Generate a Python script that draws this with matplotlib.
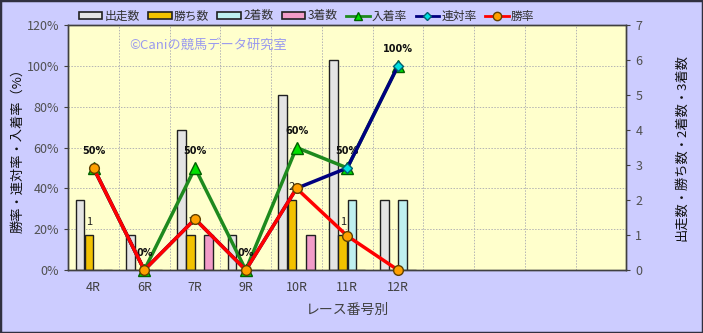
import numpy as np
import matplotlib
matplotlib.use("Agg")
import matplotlib.pyplot as plt
from matplotlib.patches import Patch, Rectangle
from matplotlib.lines import Line2D

plt.rcParams["font.family"] = ["Noto Sans CJK JP", "DejaVu Sans"]

# race numbers (11 slots on the axis, only the first 7 are used)
races = ["4R", "6R", "7R", "9R", "10R", "11R", "12R", "", "", "", ""]

# counts (right axis)
runs = [2, 1, 4, 1, 5, 6, 2]
wins = [1, 0, 1, 0, 2, 1, 0]
seconds = [0, 0, 0, 0, 0, 2, 2]
thirds = [0, 0, 1, 0, 1, 0, 0]

# rates in % (left axis)
win_rate = [50, 0, 25, 0, 40, 16.7, 0]
rentai_rate = [50, 0, 25, 0, 40, 50, 100]
place_rate = [50, 0, 50, 0, 60, 50, 100]

# labels drawn on the chart
win_labels = ["1", "", "1", "", "2", "1", ""]
place_labels = ["50%", "0%", "50%", "0%", "60%", "50%", "100%"]

bg = "#CCCCFF"
fig = plt.figure(figsize=(7.03, 3.33), dpi=100, facecolor=bg)
ax2 = fig.add_axes([0.097, 0.189, 0.794, 0.736])
ax = ax2.twinx()

# ---- bars on the count axis ----
n = len(runs)
x = np.arange(n)
w = 0.18
bar_sets = [
    (runs, "#E4E4E4", "出走数"),
    (wins, "#F2C200", "勝ち数"),
    (seconds, "#BFF0F0", "2着数"),
    (thirds, "#F29CC8", "3着数"),
]
for i, (vals, col, name) in enumerate(bar_sets):
    ax2.bar(x + (i - 1.5) * w, vals, width=w * 0.95, color=col,
            edgecolor="#202020", linewidth=1.0, zorder=2)

# win count labels above the win bars
for xi, lab, v in zip(x, win_labels, wins):
    if lab:
        ax2.text(xi - 0.5 * w, v + 0.37, lab, ha="center", va="center",
                 fontsize=8, color="#202020", zorder=5)

ax2.set_facecolor("#FFFFCC")
ax2.set_xlim(-0.5, len(races) - 0.5)
ax2.set_ylim(0, 7)
ax2.set_yticks(range(0, 8))
ax2.set_xticks(range(len(races)))
ax2.set_xticklabels(races)
ax2.set_xticks(np.arange(0.5, len(races) - 0.5, 1), minor=True)
ax2.grid(True, which="minor", axis="x", color="#B4B4B4", linestyle=(0, (1.5, 1.5)), linewidth=0.7)
ax2.tick_params(axis="x", which="minor", length=0)
ax2.tick_params(axis="x", which="major", length=0, pad=8, labelsize=9, labelcolor="#404040")
for yv in np.arange(20, 120, 20) * 7 / 120:
    ax2.axhline(yv, color="#B4B4B4", linestyle=(0, (1.5, 1.5)), linewidth=0.7, zorder=1)

# ---- lines on the rate axis ----
ax.plot(x, place_rate, color="#1E8A1E", lw=2.5, marker="^", ms=8,
        mfc="#00E000", mec="#006000", zorder=3, label="入着率")
ax.plot(x, rentai_rate, color="#000080", lw=2.5, marker="D", ms=5,
        mfc="#00E0E0", mec="#006070", zorder=4, label="連対率")
ax.plot(x, win_rate, color="#FF0000", lw=2.5, marker="o", ms=7,
        mfc="#FFA000", mec="#604000", zorder=5, label="勝率")
for xi, v, lab in zip(x, place_rate, place_labels):
    ax.annotate(lab, (xi, v), xytext=(0, 12), textcoords="offset points",
                ha="center", va="center", fontsize=7, fontweight="bold",
                color="#101010", family=["DejaVu Sans"])

ax.set_ylim(0, 120)
ax.set_yticks(range(0, 121, 20))
ax.yaxis.set_major_formatter(plt.FuncFormatter(lambda v, p: f"{v:.0f}%"))

# put rate axis on the left and count axis on the right, lines above bars
ax.yaxis.tick_left()
ax.yaxis.set_label_position("left")
ax2.yaxis.tick_right()
ax2.yaxis.set_label_position("right")
ax.set_zorder(ax2.get_zorder() + 1)
ax.patch.set_visible(False)
for a in (ax, ax2):
    a.tick_params(axis="y", labelsize=9, labelcolor="#505050", length=3, color="#404040")
    for s in a.spines.values():
        s.set_color("#404040")
        s.set_linewidth(1)
for line in ax.lines:
    line.set_clip_on(False)

ax.set_ylabel("勝率・連対率・入着率（%）", fontsize=9.5, color="#101010", labelpad=2)
ax2.set_ylabel("出走数・勝ち数・2着数・3着数", fontsize=9.5, color="#101010", labelpad=24)
ax2.set_xlabel("レース番号別", fontsize=10, color="#404040", labelpad=6)

# watermark
ax2.text(0.11, 0.915, "©Caniの競馬データ研究室", transform=ax2.transAxes,
         fontsize=9.5, color="#9A9AEE", ha="left", va="center", zorder=6)

# legend
handles = [Patch(facecolor=c, edgecolor="#202020", linewidth=1.2, label=nm) for _, c, nm in bar_sets]
handles += [
    Line2D([], [], color="#1E8A1E", lw=2, marker="^", ms=6, mfc="#00E000", mec="#006000", label="入着率"),
    Line2D([], [], color="#000080", lw=2, marker="D", ms=4, mfc="#00E0E0", mec="#006070", label="連対率"),
    Line2D([], [], color="#FF0000", lw=2, marker="o", ms=6, mfc="#FFA000", mec="#604000", label="勝率"),
]
fig.legend(handles=handles, loc="center", bbox_to_anchor=(0.436, 0.952), ncol=7,
           frameon=False, fontsize=8.5, handlelength=2.0, handleheight=0.6,
           handletextpad=0.2, columnspacing=0.7, labelcolor="#303030")

# outer border
fig.patches.append(Rectangle((0, 0), 1, 1, transform=fig.transFigure, fill=False,
                             edgecolor="#303040", linewidth=2.5))

fig.savefig("out.png", dpi=100, facecolor=bg)
